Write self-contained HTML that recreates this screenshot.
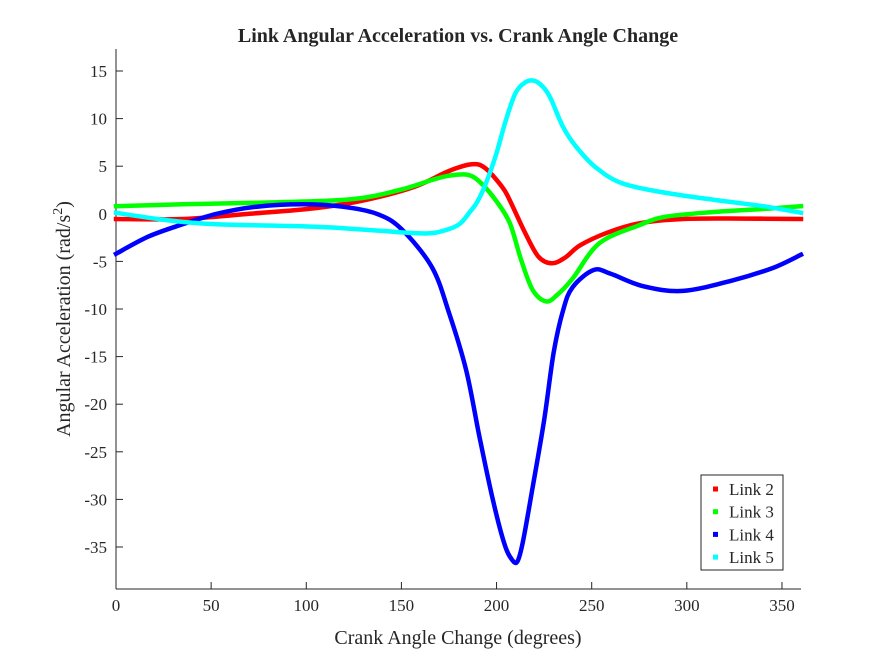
<!DOCTYPE html>
<html><head><meta charset="utf-8"><style>
body{margin:0;background:#fff}
svg text{font-family:"Liberation Serif",serif;fill:#262626}
</style></head><body>
<svg width="884" height="663" xmlns="http://www.w3.org/2000/svg" id="c">
<rect width="884" height="663" fill="#fff"/>
<text x="458" y="42" font-size="20" font-weight="bold" text-anchor="middle" fill="#000">Link Angular Acceleration vs. Crank Angle Change</text>
<g id="axes"></g>
<g id="series"></g>
<text x="458" y="644" font-size="20" text-anchor="middle">Crank Angle Change (degrees)</text>
<text transform="translate(70,319) rotate(-90)" font-size="20" text-anchor="middle">Angular Acceleration (rad/s<tspan dy="-8" font-size="14">2</tspan><tspan dy="8">)</tspan></text>
<g id="legend">
<rect x="701" y="475" width="82" height="95" fill="#fff" stroke="#262626" stroke-width="1"/>
</g>
</svg>
<script>
const xTicks=[0,50,100,150,200,250,300,350];
const yTicks=[15,10,5,0,-5,-10,-15,-20,-25,-30,-35];
const seriesNames=["Link 2","Link 3","Link 4","Link 5"];
const seriesColors=["#ff0000","#00ff00","#0000ff","#00ffff"];
const link2X=[0,35,70,105,131,157,175,187,194,203,207,215,222,229,236,244,258,275,298,330,360];
const link2Y=[-0.55,-0.55,0,0.6,1.45,2.85,4.5,5.2,4.8,2.8,1.4,-2.0,-4.5,-5.2,-4.6,-3.3,-2.0,-1.0,-0.55,-0.5,-0.55];
const link3X=[0,35,70,122,149,166,175,185,192,200,207,213,219,226,232,240,254,275,289,315,340,360];
const link3Y=[0.8,1.0,1.15,1.5,2.5,3.55,4.0,4.1,3.2,1.3,-1.0,-4.9,-8.0,-9.2,-8.5,-6.8,-3.1,-1.2,-0.3,0.2,0.5,0.8];
const link4X=[0,17,35,53,74,98,119,137,150,166,175,184,191,198,204,208,211,214,219,225,230,235,240,251,260,277,298,324,345,360];
const link4Y=[-4.2,-2.4,-1.1,0,0.75,1.0,0.75,0,-1.6,-5.6,-10.4,-16.4,-23.4,-30,-34.6,-36.3,-36.5,-34.3,-28.7,-21.7,-14.6,-10.1,-7.7,-5.9,-6.3,-7.6,-8.1,-7.0,-5.7,-4.3];
const link5X=[0,26,53,105,140,150,165,175,181,186,190,195,200,205,210,215,219,223,228,235,242,252,266,289,315,340,360];
const link5Y=[0.1,-0.65,-1.1,-1.35,-1.8,-1.95,-2.05,-1.6,-1.0,0.2,1.3,3.5,6.4,9.9,12.7,13.8,14.0,13.6,12.3,9.1,7.0,4.9,3.2,2.2,1.45,0.8,0.1];

const X0=116,X1=801,Y0=49,Y1=589;
const sx=v=>X0+(v/360)*(X1-X0);
const sy=v=>213.8-v*9.52;
const NS="http://www.w3.org/2000/svg";
function mk(tag,attrs,parent){const e=document.createElementNS(NS,tag);for(const k in attrs)e.setAttribute(k,attrs[k]);parent.appendChild(e);return e;}
const ax=document.getElementById('axes');
let l=mk('line',{x1:X0,y1:Y1,x2:X1,y2:Y1,stroke:'#262626','stroke-width':1},ax);


l=mk('line',{x1:X0,y1:Y0,x2:X0,y2:Y1,stroke:'#262626','stroke-width':1},ax);


xTicks.forEach(t=>{
  const x=sx(t);
  const tk=mk('line',{x1:x,y1:Y1,x2:x,y2:Y1-7,stroke:'#262626'},ax);
  
  
  const tx=mk('text',{x:x,y:Y1+22,'font-size':17,'text-anchor':'middle'},ax);
  tx.textContent=t;
  
  
});
yTicks.forEach(t=>{
  const y=sy(t);
  const tk=mk('line',{x1:X0,y1:y,x2:X0+7,y2:y,stroke:'#262626'},ax);
  
  
  const tx=mk('text',{x:X0-9,y:y+6,'font-size':17,'text-anchor':'end'},ax);
  tx.textContent=t;
  
  
});
function smoothPath(P){
  let d='M'+P[0][0].toFixed(1)+','+P[0][1].toFixed(1);
  for(let i=0;i<P.length-1;i++){
    const p0=P[Math.max(0,i-1)],p1=P[i],p2=P[i+1],p3=P[Math.min(P.length-1,i+2)];
    const c1x=p1[0]+(p2[0]-p0[0])/6,c1y=p1[1]+(p2[1]-p0[1])/6;
    const c2x=p2[0]-(p3[0]-p1[0])/6,c2y=p2[1]-(p3[1]-p1[1])/6;
    d+=' C'+c1x.toFixed(1)+','+c1y.toFixed(1)+' '+c2x.toFixed(1)+','+c2y.toFixed(1)+' '+p2[0].toFixed(1)+','+p2[1].toFixed(1);
  }
  return d;
}
const sg=document.getElementById('series');
const allX=[link2X,link3X,link4X,link5X], allY=[link2Y,link3Y,link4Y,link5Y];
allX.forEach((xs,i)=>{
  const P=xs.map((x,j)=>[sx(x),sy(allY[i][j])]);
  const p=mk('path',{d:smoothPath(P),fill:'none',stroke:seriesColors[i],'stroke-width':4.5,'stroke-linejoin':'round','stroke-linecap':'square'},sg);
  
  
});
const lg=document.getElementById('legend');
seriesNames.forEach((n,i)=>{
  const y=489+i*22.7;
  const r=mk('rect',{x:713,y:y-2.5,width:5,height:5,fill:seriesColors[i]},lg);
  
  
  const t=mk('text',{x:729,y:y+6,'font-size':17,fill:'#000'},lg);
  t.textContent=n;
  
  
});
</script>
</body></html>
